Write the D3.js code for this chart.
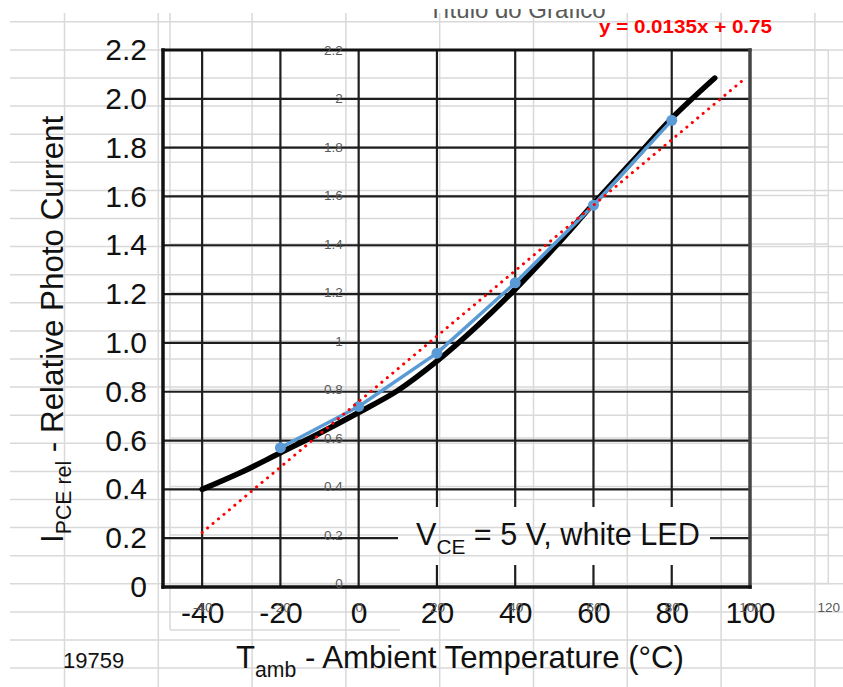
<!DOCTYPE html>
<html>
<head>
<meta charset="utf-8">
<script src="https://cdn.jsdelivr.net/npm/d3@7"></script>
<style>
    html, body { margin: 0; padding: 0; background: #fff; }
    svg { display: block; }
</style>
</head>
<body>
<div id="chart"></div>
<script>
// --- data ---

// datasheet (black) curve
const sheetTemp = [-40, -30, -20, -10, 0, 10, 20, 30, 40, 50, 60, 70, 80, 91];
const sheetCurrent = [0.40, 0.47, 0.55, 0.63, 0.715, 0.805, 0.925, 1.065, 1.22, 1.39, 1.57, 1.745, 1.92, 2.085];

// excel series (blue) and its linear trendline
const seriesTemp = [-20, 0, 20, 40, 60, 80];
const seriesCurrent = [0.56, 0.73, 0.95, 1.24, 1.56, 1.91];
const trendSlope = 0.0135;
const trendIntercept = 0.75;
const trendRange = [-40, 99];

// tick labels
const sheetTempTicks = [-40, -20, 0, 20, 40, 60, 80, 100];
const sheetCurrentTicks = [0, 0.2, 0.4, 0.6, 0.8, 1.0, 1.2, 1.4, 1.6, 1.8, 2.0, 2.2];
const excelTempTicks = [-40, -20, 0, 20, 40, 60, 80, 100, 120];
const excelCurrentTicks = [0, 0.2, 0.4, 0.6, 0.8, 1, 1.2, 1.4, 1.6, 1.8, 2, 2.2];

// texts
const chartTitle = 'Título do Gráfico';
const equationText = 'y = 0.0135x + 0.75';
const conditionText = ['V', 'CE', ' = 5 V, white LED'];
const yTitle = ['I', 'PCE rel', ' - Relative Photo Current'];
const xTitle = ['T', 'amb', ' - Ambient Temperature (°C)'];
const figureNumber = '19759';

// --- setup ---
const width = 843;
const height = 687;
const FONT = '"Liberation Sans", Arial, sans-serif';

const svg = d3.select('#chart')
    .append('svg')
    .attr('width', width)
    .attr('height', height);

svg.append('rect').attr('width', width).attr('height', height).attr('fill', '#fff');

// datasheet scales
const xSheet = d3.scaleLinear().domain([-50, 100]).range([163, 750]);
const ySheet = d3.scaleLinear().domain([0, 2.2]).range([587, 50]);

// excel scales (same x spacing, slightly different y)
const xExcel = d3.scaleLinear().domain([-50, 120]).range([163, 828.3]);
const yExcel = d3.scaleLinear().domain([0, 2.2]).range([583.5, 50]);

// --- spreadsheet cell grid ---
const sheetGrid = svg.append('g').attr('stroke', '#d9d9d9').attr('stroke-width', 1.5);
d3.range(24).forEach(k => {
    const y = 21.8 + 28.1 * k;
    sheetGrid.append('line').attr('x1', 10).attr('x2', width).attr('y1', y).attr('y2', y);
});
d3.range(9).forEach(k => {
    const x = 64.5 + 93.8 * k;
    sheetGrid.append('line').attr('x1', x).attr('x2', x).attr('y1', 13).attr('y2', height);
});

// --- excel chart frame / gridlines ---
const excelGrid = svg.append('g').attr('stroke', '#d9d9d9').attr('stroke-width', 1.5);
excelCurrentTicks.forEach(v => {
    excelGrid.append('line')
        .attr('x1', 170).attr('x2', xExcel(120))
        .attr('y1', yExcel(v)).attr('y2', yExcel(v));
});
excelGrid.append('line').attr('x1', xExcel(120)).attr('x2', xExcel(120)).attr('y1', yExcel(2.2)).attr('y2', yExcel(0));
excelGrid.append('line').attr('x1', 170).attr('x2', 170).attr('y1', 13).attr('y2', 630);
excelGrid.append('line').attr('x1', 170).attr('x2', 400).attr('y1', 630).attr('y2', 630);

// --- datasheet grid (with a gap behind the condition label) ---
const defs = svg.append('defs');
const mask = defs.append('mask').attr('id', 'label-gap');
mask.append('rect').attr('width', width).attr('height', height).attr('fill', '#fff');
mask.append('rect').attr('x', 398).attr('y', 507).attr('width', 312).attr('height', 58).attr('fill', '#000');

const dsGrid = svg.append('g')
    .attr('mask', 'url(#label-gap)')
    .attr('stroke', '#1e1e1e')
    .attr('stroke-width', 2.2);

sheetCurrentTicks.slice(1, -1).forEach(v => {
    dsGrid.append('line')
        .attr('x1', xSheet(-50)).attr('x2', xSheet(100))
        .attr('y1', ySheet(v)).attr('y2', ySheet(v));
});
sheetTempTicks.slice(0, -1).forEach(t => {
    dsGrid.append('line')
        .attr('x1', xSheet(t)).attr('x2', xSheet(t))
        .attr('y1', ySheet(2.2)).attr('y2', ySheet(0));
});

// frame
const frame = svg.append('g').attr('fill', 'none').attr('stroke-linecap', 'square');
frame.append('line').attr('x1', xSheet(-50)).attr('x2', xSheet(100)).attr('y1', ySheet(2.2)).attr('y2', ySheet(2.2))
    .attr('stroke', '#111').attr('stroke-width', 3);
frame.append('line').attr('x1', xSheet(100)).attr('x2', xSheet(100)).attr('y1', ySheet(2.2)).attr('y2', ySheet(0))
    .attr('stroke', '#444').attr('stroke-width', 3.5);
frame.append('line').attr('x1', xSheet(-50)).attr('x2', xSheet(-50)).attr('y1', ySheet(2.2)).attr('y2', ySheet(0))
    .attr('stroke', '#111').attr('stroke-width', 3.5);
frame.append('line').attr('x1', xSheet(-50)).attr('x2', xSheet(100)).attr('y1', ySheet(0)).attr('y2', ySheet(0))
    .attr('stroke', '#111').attr('stroke-width', 3.5);

// datasheet curve
const sheetLine = d3.line()
    .x(d => xSheet(d[0]))
    .y(d => ySheet(d[1]))
    .curve(d3.curveCatmullRom);

svg.append('path')
    .datum(sheetTemp.map((t, i) => [t, sheetCurrent[i]]))
    .attr('d', sheetLine)
    .attr('fill', 'none')
    .attr('stroke', '#000')
    .attr('stroke-width', 5.5)
    .attr('stroke-linecap', 'round');

// --- datasheet axes labels ---
const dsFmt = v => v === 0 ? '0' : d3.format('.1f')(v);

const dsY = svg.append('g')
    .attr('transform', `translate(${xSheet(-50)},0)`)
    .call(d3.axisLeft(ySheet).tickValues(sheetCurrentTicks).tickFormat(dsFmt).tickSize(0).tickPadding(16));
dsY.select('.domain').remove();
dsY.selectAll('text').attr('font-size', 30).attr('font-family', FONT).attr('fill', '#111');

const dsX = svg.append('g')
    .attr('transform', `translate(0,${ySheet(0)})`)
    .call(d3.axisBottom(xSheet).tickValues(sheetTempTicks).tickFormat(d => String(d)).tickSize(0).tickPadding(15));
dsX.select('.domain').remove();
dsX.selectAll('text').attr('font-size', 30).attr('font-family', FONT).attr('fill', '#111');

// --- excel layer ---
const exY = svg.append('g')
    .attr('transform', `translate(${xExcel(0) - 16},0)`)
    .call(d3.axisLeft(yExcel).tickValues(excelCurrentTicks).tickFormat(d => String(d)).tickSize(0).tickPadding(0));
exY.select('.domain').remove();
exY.selectAll('text').attr('font-size', 13.5).attr('font-family', FONT).attr('fill', '#595959');

const exX = svg.append('g')
    .attr('transform', `translate(0,${yExcel(0)})`)
    .call(d3.axisBottom(xExcel).tickValues(excelTempTicks).tickFormat(d => String(d)).tickSize(0).tickPadding(19));
exX.select('.domain').remove();
exX.selectAll('text').attr('font-size', 13.5).attr('font-family', FONT).attr('fill', '#595959');

// blue series
const seriesData = seriesTemp.map((t, i) => [t, seriesCurrent[i]]);
svg.append('path')
    .datum(seriesData)
    .attr('d', d3.line().x(d => xExcel(d[0])).y(d => yExcel(d[1])))
    .attr('fill', 'none')
    .attr('stroke', '#5b9bd5')
    .attr('stroke-width', 3.5)
    .attr('stroke-linejoin', 'round');

svg.append('g')
    .selectAll('circle')
    .data(seriesData)
    .join('circle')
    .attr('cx', d => xExcel(d[0]))
    .attr('cy', d => yExcel(d[1]))
    .attr('r', 5.5)
    .attr('fill', '#5b9bd5');

// trendline (dotted red)
svg.append('path')
    .datum(trendRange.map(t => [t, trendSlope * t + trendIntercept]))
    .attr('d', d3.line().x(d => xExcel(d[0])).y(d => yExcel(d[1])))
    .attr('fill', 'none')
    .attr('stroke', '#ff0000')
    .attr('stroke-width', 3)
    .attr('stroke-dasharray', '0.1,7')
    .attr('stroke-linecap', 'round');

// trendline equation
svg.append('text')
    .attr('x', 599).attr('y', 33)
    .attr('font-family', FONT)
    .attr('font-weight', 'bold')
    .attr('font-size', 19)
    .attr('fill', '#ff0000')
    .attr('textLength', 173)
    .attr('lengthAdjust', 'spacingAndGlyphs')
    .text(equationText);

// chart title (top is cut off in the screenshot)
svg.append('text')
    .attr('x', 517).attr('y', 18)
    .attr('font-family', FONT)
    .attr('font-size', 24)
    .attr('fill', '#595959')
    .attr('text-anchor', 'middle')
    .text(chartTitle);
svg.append('rect').attr('x', 0).attr('y', 0).attr('width', width).attr('height', 9).attr('fill', '#fff');

// --- datasheet texts ---
// builds "main + subscript + rest" text and scales it to a measured span
function subText(parts, subShift) {
    const t = svg.append('text')
        .attr('font-family', FONT)
        .attr('fill', '#111');
    t.append('tspan').text(parts[0]);
    t.append('tspan').attr('font-size', '0.68em').attr('dy', subShift).text(parts[1]);
    t.append('tspan').attr('dy', -subShift).text(parts[2]);
    return t;
}

function fitWidth(t, base, target) {
    t.attr('font-size', base);
    const w = t.node().getBBox().width;
    t.attr('font-size', base * target / w);
}

const cond = subText(conditionText, 9).attr('x', 416).attr('y', 545);
fitWidth(cond, 30, 284);

const xt = subText(xTitle, 9).attr('x', 236).attr('y', 668);
fitWidth(xt, 30, 448);

const yt = subText(yTitle, 8)
    .attr('transform', 'translate(63,543) rotate(-90)');
fitWidth(yt, 30, 428);

svg.append('text')
    .attr('x', 63).attr('y', 668)
    .attr('font-family', FONT)
    .attr('font-size', 22)
    .attr('fill', '#111')
    .text(figureNumber);
</script>
</body>
</html>
